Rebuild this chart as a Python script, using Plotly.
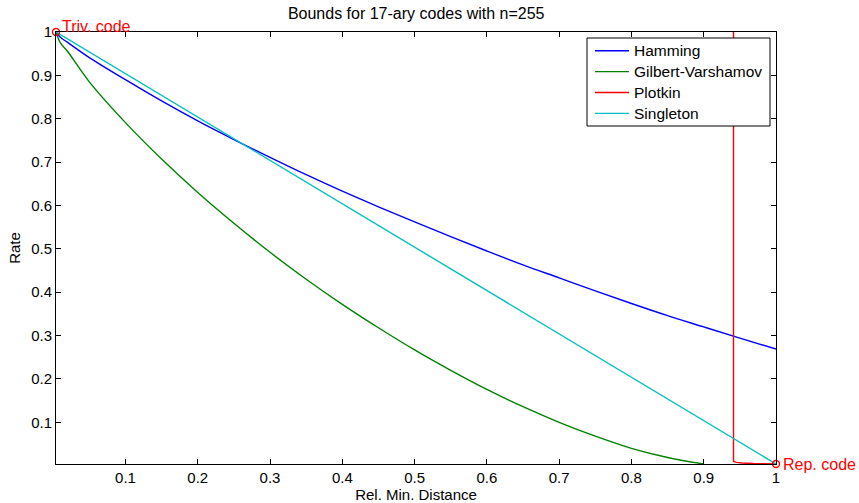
import plotly.graph_objects as go

N = 255
# relative minimum distance sample points
delta = [0.0039, 0.01, 0.02, 0.05, 0.10, 0.15, 0.20, 0.25, 0.30, 0.35, 0.40, 0.45,
         0.50, 0.55, 0.60, 0.65, 0.70, 0.75, 0.80, 0.85, 0.90, 0.95, 1.00]
hamming = [1.000, 0.988, 0.976, 0.941, 0.890, 0.841, 0.795, 0.752, 0.711, 0.671, 0.633, 0.597,
           0.562, 0.528, 0.495, 0.463, 0.433, 0.403, 0.374, 0.346, 0.320, 0.294, 0.269]
delta_gv = [0.0039, 0.01, 0.02, 0.05, 0.10, 0.15, 0.20, 0.25, 0.30, 0.35, 0.40, 0.45,
            0.50, 0.55, 0.60, 0.65, 0.70, 0.75, 0.80, 0.85, 0.90]
gilbert_varshamov = [1.000, 0.975, 0.955, 0.885, 0.791, 0.707, 0.630, 0.559, 0.492, 0.430, 0.372, 0.318,
                     0.267, 0.220, 0.176, 0.136, 0.100, 0.068, 0.040, 0.019, 0.004]
delta_plotkin = [0.9412, 0.9412, 0.945, 0.953, 0.969, 1.000]
plotkin = [1.20, 0.0100, 0.0076, 0.0061, 0.0049, 0.0039]
delta_singleton = [0.0039, 1.000]
singleton = [1.000, 0.0039]
special_x = [0.0039, 1.000]
special_y = [1.000, 0.0039]
special_labels = ["Triv. code", "Rep. code"]
tick_vals = [0.1, 0.2, 0.3, 0.4, 0.5, 0.6, 0.7, 0.8, 0.9, 1]
tick_text = ["0.1", "0.2", "0.3", "0.4", "0.5", "0.6", "0.7", "0.8", "0.9", "1"]
series_names = ["Hamming", "Gilbert-Varshamov", "Plotkin", "Singleton"]
series_colors = ["#0000FF", "#008000", "#FF0000", "#00BFBF"]

FONT = "Liberation Sans, Arial, sans-serif"
W, H = 859, 503
ML, MR, MT, MB = 56, 83, 32, 39
PW, PH = W - ML - MR, H - MT - MB


def px_x(p):
    return (p - ML) / PW


def px_y(p):
    return (H - MB - p) / PH


fig = go.Figure()
series_x = [delta, delta_gv, delta_plotkin, delta_singleton]
series_y = [hamming, gilbert_varshamov, plotkin, singleton]
series_shape = ["spline", "spline", "linear", "linear"]
for name, color, xs, ys, shp in zip(series_names, series_colors, series_x, series_y, series_shape):
    fig.add_trace(go.Scatter(x=xs, y=ys, mode="lines", name=name, showlegend=False,
                             line=dict(color=color, width=1.4, shape=shp)))

fig.add_trace(go.Scatter(x=special_x, y=special_y, mode="markers", showlegend=False,
                         marker=dict(symbol="circle-open", size=7, color="#FF0000",
                                     line=dict(width=1.4, color="#FF0000")),
                         cliponaxis=False))

fig.add_annotation(x=special_x[0], y=special_y[0], xref="x", yref="y", text=special_labels[0],
                   showarrow=False, xanchor="left", yanchor="bottom", xshift=4, yshift=-5,
                   font=dict(family=FONT, size=16, color="#FF0000"))
fig.add_annotation(x=special_x[1], y=special_y[1], xref="x", yref="y", text=special_labels[1],
                   showarrow=False, xanchor="left", yanchor="middle", xshift=5, yshift=0,
                   font=dict(family=FONT, size=16, color="#FF0000"))

# legend box (drawn manually, MATLAB style)
fig.add_shape(type="rect", xref="paper", yref="paper",
              x0=px_x(587), x1=px_x(770), y0=px_y(126), y1=px_y(38),
              line=dict(color="black", width=1), fillcolor="white", layer="above")
row_y = [50.7, 71.6, 92.5, 113.4]
for name, color, ry in zip(series_names, series_colors, row_y):
    fig.add_shape(type="line", xref="paper", yref="paper",
                  x0=px_x(595), x1=px_x(629), y0=px_y(ry), y1=px_y(ry),
                  line=dict(color=color, width=1.4), layer="above")
    fig.add_annotation(x=px_x(632), y=px_y(ry), xref="paper", yref="paper", text=name,
                       showarrow=False, xanchor="left", yanchor="middle",
                       font=dict(family=FONT, size=15.5, color="black"))

axis_common = dict(showgrid=False, zeroline=False, showline=True, linecolor="black", linewidth=1,
                   mirror="ticks", ticks="inside", ticklen=5, tickcolor="black", tickwidth=1,
                   automargin=False,
                   tickfont=dict(family=FONT, size=15, color="black"))

fig.update_layout(
    width=W, height=H, autosize=False,
    margin=dict(l=ML, r=MR, t=MT, b=MB, pad=0),
    paper_bgcolor="white", plot_bgcolor="white",
    title=dict(text="Bounds for 17-ary codes with n=255", x=0.4845, xanchor="center",
               y=0.985, yanchor="top", automargin=False,
               font=dict(family=FONT, size=16, color="black")),
    xaxis=dict(range=[delta[0], 1], tickvals=tick_vals, ticktext=tick_text,
               title=dict(text="Rel. Min. Distance", standoff=4,
                          font=dict(family=FONT, size=15, color="black")),
               **axis_common),
    yaxis=dict(range=[singleton[-1], 1], tickvals=tick_vals, ticktext=tick_text,
               title=dict(text="Rate", standoff=6,
                          font=dict(family=FONT, size=15, color="black")),
               **axis_common),
    showlegend=False,
)

fig.write_html("out.html", post_script="document.body.style.margin='0';",
               config={"displayModeBar": False})
